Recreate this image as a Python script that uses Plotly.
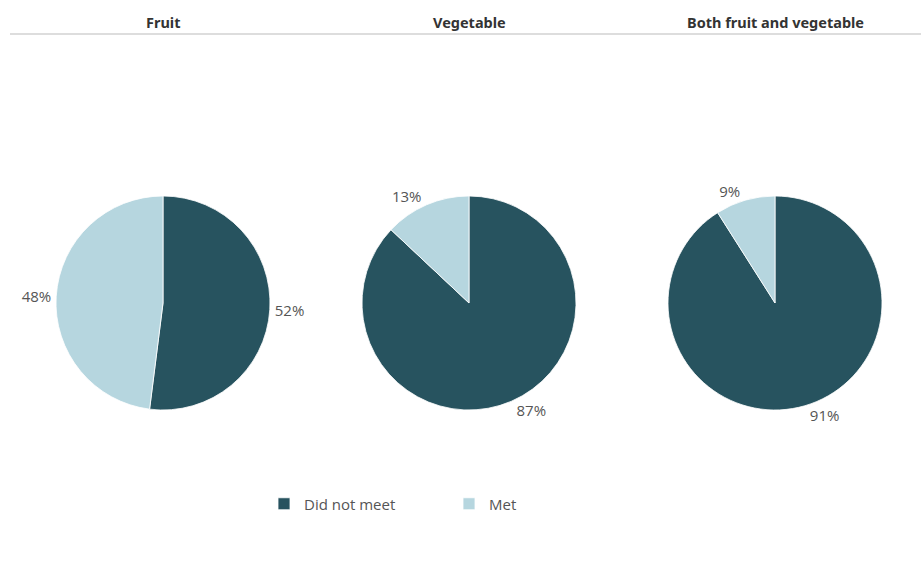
import plotly.graph_objects as go

# Share of people meeting dietary guidelines
groups = ["Fruit", "Vegetable", "Both fruit and vegetable"]
statuses = ["Did not meet", "Met"]
did_not_meet = [52, 87, 91]
met = [48, 13, 9]

colors = ["#27535f", "#b6d6df"]

W, H = 921, 563
centers_x = [163, 469, 775]
center_y = 303
radius = 107

fig = go.Figure()
for i, g in enumerate(groups):
    cx = centers_x[i]
    fig.add_trace(go.Pie(
        labels=statuses,
        values=[did_not_meet[i], met[i]],
        sort=False,
        direction="clockwise",
        rotation=0,
        marker=dict(colors=colors, line=dict(color="white", width=0.8)),
        texttemplate="%{value}%",
        textposition="outside",
        textfont=dict(family="Open Sans", size=15, color="#555555"),
        hoverinfo="label+value",
        showlegend=(i == 0),
        domain=dict(
            x=[(cx - radius) / W, (cx + radius) / W],
            y=[(H - center_y - radius) / H, (H - center_y + radius) / H],
        ),
    ))
    fig.add_annotation(
        x=cx / W, y=1 - 22 / H, xref="paper", yref="paper",
        text=f"<b>{g}</b>", showarrow=False,
        font=dict(family="Noto Sans", size=14.5, color="#333333"),
        xanchor="center", yanchor="middle",
    )

# Rule under the panel headers
fig.add_shape(type="line", xref="paper", yref="paper",
              x0=10 / W, x1=1, y0=1 - 34 / H, y1=1 - 34 / H,
              line=dict(color="#dddddd", width=2))

fig.update_layout(
    width=W, height=H,
    margin=dict(l=0, r=0, t=0, b=0),
    paper_bgcolor="white",
    plot_bgcolor="white",
    legend=dict(
        orientation="h",
        x=(284 - 20) / W, xanchor="left",
        y=(H - 504) / H, yanchor="middle",
        font=dict(family="Open Sans", size=15, color="#555555"),
        entrywidth=140, entrywidthmode="pixels",
        bgcolor="rgba(0,0,0,0)",
    ),
)

fig.write_html("out.html")
